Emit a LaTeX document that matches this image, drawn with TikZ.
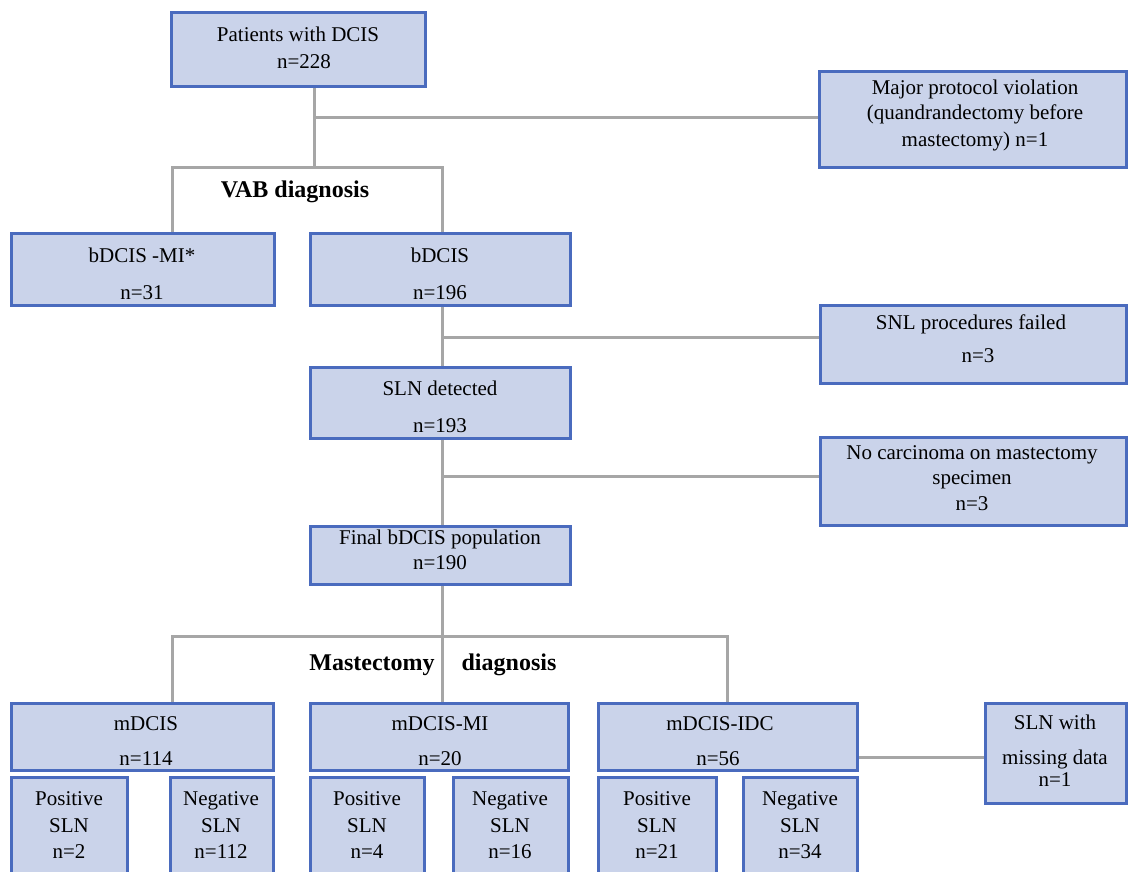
\documentclass[tikz,border=0pt]{standalone}
\usepackage{fontspec}
\setmainfont{Liberation Serif}
\usetikzlibrary{backgrounds}
\definecolor{boxfill}{HTML}{CAD3EA}
\definecolor{boxline}{HTML}{4A6BBE}
\definecolor{connc}{HTML}{A6A6A6}
\begin{document}
\begin{tikzpicture}[x=1pt,y=-1pt,
  every node/.style={font=\fontsize{21pt}{25pt}\selectfont},
  box/.style={draw=boxline,fill=boxfill,line width=3pt,rectangle,inner sep=0pt,outer sep=0pt,anchor=north west},
  txt/.style={anchor=base,inner sep=0pt,text=black},
  hd/.style={anchor=base,inner sep=0pt,font=\fontsize{24pt}{28pt}\selectfont\bfseries},
  conn/.style={draw=connc,line width=3pt}]
\useasboundingbox (0,0) rectangle (1128,872);
% boxes
\node[box,minimum width=254pt,minimum height=74pt] (top) at (171,13) {};
\node[box,minimum width=307pt,minimum height=96pt] (major) at (819,72) {};
\node[box,minimum width=263pt,minimum height=72pt] (bmi) at (11,233) {};
\node[box,minimum width=260pt,minimum height=72pt] (bdcis) at (310,233) {};
\node[box,minimum width=306pt,minimum height=78pt] (snl) at (820,305) {};
\node[box,minimum width=260pt,minimum height=71pt] (slnd) at (310,367) {};
\node[box,minimum width=306pt,minimum height=88pt] (nocarc) at (820,437) {};
\node[box,minimum width=260pt,minimum height=58pt] (final) at (310,526) {};
\node[box,minimum width=262pt,minimum height=67pt] (mdcis) at (11,703) {};
\node[box,minimum width=258pt,minimum height=67pt] (mdcismi) at (310,703) {};
\node[box,minimum width=259pt,minimum height=67pt] (mdcisidc) at (598,703) {};
\node[box,minimum width=116pt,minimum height=110pt] (pos1) at (11,777) {};
\node[box,minimum width=103pt,minimum height=110pt] (neg1) at (170,777) {};
\node[box,minimum width=114pt,minimum height=110pt] (pos2) at (310,777) {};
\node[box,minimum width=115pt,minimum height=110pt] (neg2) at (453,777) {};
\node[box,minimum width=118pt,minimum height=110pt] (pos3) at (598,777) {};
\node[box,minimum width=114pt,minimum height=110pt] (neg3) at (743,777) {};
\node[box,minimum width=141pt,minimum height=100pt] (missing) at (985,703) {};
% texts (baseline = visual centre + 7)
\node[txt] (ttop1) at (298,42) {Patients with DCIS};
\node[txt] (ttop2) at (304,69) {n=228};
\node[txt] (tmaj1) at (975,95) {Major protocol violation};
\node[txt] (tmaj2) at (975,120) {(quandrandectomy before};
\node[txt] (tmaj3) at (975,147) {mastectomy) n=1};
\node[txt] (tbmi1) at (142,262) {bDCIS -MI*};
\node[txt] (tbmi2) at (142,299) {n=31};
\node[txt] (tbd1) at (440,262) {bDCIS};
\node[txt] (tbd2) at (440,299) {n=196};
\node[txt] (tsnl1) at (971,329) {SNL procedures failed};
\node[txt] (tsnl2) at (978,362) {n=3};
\node[txt] (tsl1) at (440,395) {SLN detected};
\node[txt] (tsl2) at (440,432) {n=193};
\node[txt] (tnc1) at (972,459) {No carcinoma on mastectomy};
\node[txt] (tnc2) at (972,484) {specimen};
\node[txt] (tnc3) at (972,510) {n=3};
\node[txt] (tfi1) at (440,544) {Final bDCIS population};
\node[txt] (tfi2) at (440,569) {n=190};
\node[txt] (tmd1) at (146,730) {mDCIS};
\node[txt] (tmd2) at (146,765) {n=114};
\node[txt] (tmm1) at (440,730) {mDCIS-MI};
\node[txt] (tmm2) at (440,765) {n=20};
\node[txt] (tmi1) at (720,730) {mDCIS-IDC};
\node[txt] (tmi2) at (718,765) {n=56};
\node[txt] (tp11) at (69,805) {Positive};
\node[txt] (tp12) at (69,832) {SLN};
\node[txt] (tp13) at (69,858) {n=2};
\node[txt] (tn11) at (221,805) {Negative};
\node[txt] (tn12) at (221,832) {SLN};
\node[txt] (tn13) at (221,858) {n=112};
\node[txt] (tp21) at (367,805) {Positive};
\node[txt] (tp22) at (367,832) {SLN};
\node[txt] (tp23) at (367,858) {n=4};
\node[txt] (tn21) at (510,805) {Negative};
\node[txt] (tn22) at (510,832) {SLN};
\node[txt] (tn23) at (510,858) {n=16};
\node[txt] (tp31) at (657,805) {Positive};
\node[txt] (tp32) at (657,832) {SLN};
\node[txt] (tp33) at (657,858) {n=21};
\node[txt] (tn31) at (800,805) {Negative};
\node[txt] (tn32) at (800,832) {SLN};
\node[txt] (tn33) at (800,858) {n=34};
\node[txt] (tms1) at (1055,729) {SLN with};
\node[txt] (tms2) at (1055,764) {missing data};
\node[txt] (tms3) at (1055,786) {n=1};
% headings
\node[hd] (vab) at (295,197) {VAB diagnosis};
\node[hd] (mast) at (372,670) {Mastectomy};
\node[hd] (mdiag) at (509,670) {diagnosis};
% connectors
\coordinate (j0) at (314,118);
\coordinate (j1) at (314,168);
\coordinate (jL) at (172,168);
\coordinate (jR) at (442,168);
\coordinate (k1) at (442,337);
\coordinate (k2) at (442,476);
\coordinate (m0) at (172,636);
\coordinate (m1) at (442,636);
\coordinate (m2) at (727,636);
\coordinate (s1) at (857,757);
\begin{scope}[on background layer]
\draw[conn] (top.south -| j1) -- (j1);
\draw[conn] (j0) -- (j0 -| major.west);
\draw[conn] (bmi.north -| jL) -- (jL) -- (jR) -- (bdcis.north -| jR);
\draw[conn] (bdcis.south -| k1) -- (slnd.north -| k1);
\draw[conn] (k1) -- (k1 -| snl.west);
\draw[conn] (slnd.south -| k2) -- (final.north -| k2);
\draw[conn] (k2) -- (k2 -| nocarc.west);
\draw[conn] (final.south -| m1) -- (mdcismi.north -| m1);
\draw[conn] (mdcis.north -| m0) -- (m0) -- (m2) -- (mdcisidc.north -| m2);
\draw[conn] (mdcisidc.east |- s1) -- (missing.west |- s1);
\end{scope}
\end{tikzpicture}
\end{document}
